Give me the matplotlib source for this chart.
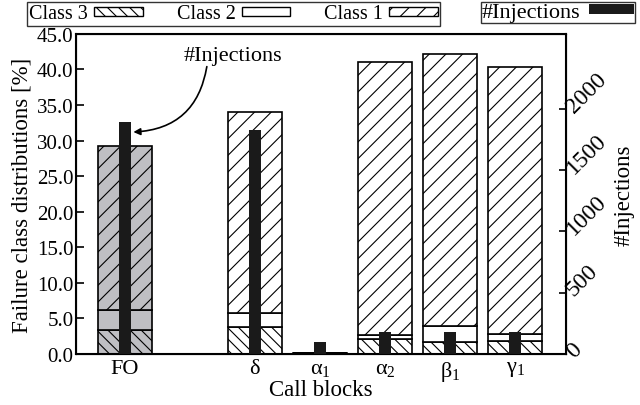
import numpy as np
import matplotlib
matplotlib.use('Agg')
import matplotlib.pyplot as plt
from matplotlib.patches import Patch

plt.rcParams['font.family'] = ['Liberation Serif', 'DejaVu Serif']
plt.rcParams['mathtext.fontset'] = 'custom'
plt.rcParams['mathtext.rm'] = 'Liberation Serif'
plt.rcParams['mathtext.it'] = 'Liberation Serif'
plt.rcParams['hatch.linewidth'] = 0.8
plt.rcParams['font.size'] = 15

# data
blocks = ['FO', r'$\mathrm{δ}$', r'$\mathrm{α}_1$', r'$\mathrm{α}_2$',
          r'$\mathrm{β}_1$', r'$\mathrm{γ}_1$']
class3 = [3.4, 3.8, 0.05, 2.1, 1.6, 1.8]
class2 = [2.8, 1.9, 0.0, 0.6, 2.3, 1.0]
class1 = [23.0, 28.3, 0.05, 38.3, 38.3, 37.6]
injections = [1890, 1830, 95, 175, 175, 175]

xpos = np.array([0, 2, 3, 4, 5, 6])
faces = ['#bfbfc3', 'white', 'white', 'white', 'white', 'white']
bw = 0.83

fig = plt.figure(figsize=(6.4, 4.06), dpi=100)
ax = fig.add_axes([0.119, 0.126, 0.765, 0.788])

b3 = np.array(class3)
b2 = b3 + np.array(class2)
ax.bar(xpos, class3, bw, color=faces, edgecolor='black', lw=1.2, hatch='\\\\\\')
ax.bar(xpos, class2, bw, bottom=b3, color=faces, edgecolor='black', lw=1.2)
ax.bar(xpos, class1, bw, bottom=b2, color=faces, edgecolor='black', lw=1.2, hatch='//')

ax.set_xlim(-0.75, 6.78)
ax.set_ylim(0, 45)
ax.set_yticks(np.arange(0, 46, 5))
ax.set_yticklabels(['%.1f' % v for v in np.arange(0, 46, 5)])
ax.set_xticks(xpos)
ax.set_xticklabels(blocks, fontsize=16)
ax.tick_params(axis='x', length=0, pad=4)
ax.tick_params(axis='y', direction='in', length=6, width=1.2, pad=2)
for s in ax.spines.values():
    s.set_linewidth(1.5)
ax.set_ylabel('Failure class distributions [%]', fontsize=16.5, labelpad=3)
ax.set_xlabel('Call blocks', fontsize=16.5, labelpad=-3)

ax2 = ax.twinx()
ax2.bar(xpos, injections, 0.18, color='#1a1a1a')
ax2.set_ylim(0, 2610)
ax2.set_yticks([0, 500, 1000, 1500, 2000])
ax2.set_yticklabels(['0', '500', '1000', '1500', '2000'], rotation=45,
                    ha='left', va='center', rotation_mode='anchor', fontsize=17)
ax2.tick_params(axis='y', direction='in', length=5, width=1.2, pad=3)
ax2.set_ylabel('#Injections', fontsize=16.5, labelpad=2)

ax.text(1.66, 42.0, '#Injections', ha='center', va='center', fontsize=16)
ax.annotate('', xy=(0.13, 31.2), xytext=(1.26, 40.4),
            arrowprops=dict(arrowstyle='-|>', color='black', lw=1.2,
                            shrinkA=0, shrinkB=0, mutation_scale=10,
                            connectionstyle='arc3,rad=-0.4'))

h1 = [Patch(facecolor='white', edgecolor='black', hatch='\\\\\\'),
      Patch(facecolor='white', edgecolor='black'),
      Patch(facecolor='white', edgecolor='black', hatch='//')]
leg1 = fig.legend(h1, ['Class 3', 'Class 2', 'Class 1'], ncol=3,
                  loc='upper left', bbox_to_anchor=(27 / 640, 1 - 3 / 406),
                  markerfirst=False, handlelength=2.4, handleheight=0.3,
                  handletextpad=0.3, columnspacing=1.7, borderpad=0.12,
                  fancybox=False, edgecolor='black', borderaxespad=0,
                  fontsize=14.5)
leg1.get_frame().set_linewidth(1.0)
leg2 = fig.legend([Patch(facecolor='#1a1a1a')], ['#Injections'],
                  loc='upper right', bbox_to_anchor=(635 / 640, 1 - 3 / 406),
                  markerfirst=False, handlelength=2.0, handleheight=0.3,
                  handletextpad=0.4, borderpad=0.05,
                  fancybox=False, edgecolor='black', borderaxespad=0,
                  fontsize=16)
leg2.get_frame().set_linewidth(1.0)

fig.savefig('out.png', dpi=100)
